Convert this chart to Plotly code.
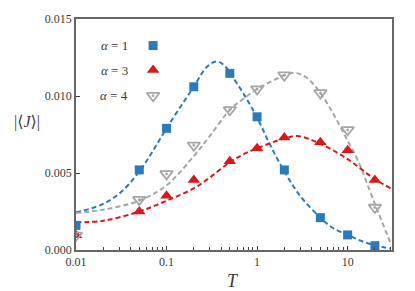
import plotly.graph_objects as go

# ---- data ----
T_points = [0.01, 0.05, 0.1, 0.2, 0.5, 1, 2, 5, 10, 20]
J_alpha1 = [0.0016, 0.0052, 0.0079, 0.0106, 0.01147, 0.00865, 0.0052, 0.0021, 0.00098, 0.00028]
J_alpha3 = [0.00096, 0.0025, 0.00353, 0.00455, 0.00577, 0.0066, 0.0073, 0.00699, 0.00647, 0.00455]
J_alpha4 = [0.00095, 0.00327, 0.00494, 0.0068, 0.0091, 0.01045, 0.01135, 0.0102, 0.0078, 0.00276]

T_fit1 = [0.01, 0.0184, 0.0306, 0.05, 0.07, 0.1, 0.15, 0.2, 0.28, 0.36, 0.45, 0.5, 0.7, 1, 1.4, 2, 3, 5, 7, 10, 14, 20, 30]
J_fit1 = [0.00245, 0.0029, 0.0037, 0.0051, 0.0064, 0.0079, 0.0095, 0.0106, 0.0119, 0.01225, 0.0119, 0.0115, 0.0102, 0.0086, 0.0068, 0.0051, 0.0035, 0.0021, 0.0014, 0.0010, 0.0006, 0.0003, 0.0001]

T_fit3 = [0.01, 0.02, 0.05, 0.1, 0.2, 0.3, 0.5, 0.7, 1, 2, 2.8, 5, 10, 20, 30]
J_fit3 = [0.0018, 0.0019, 0.0025, 0.0032, 0.0040, 0.0047, 0.0057, 0.0062, 0.0066, 0.00725, 0.0074, 0.0069, 0.0059, 0.0046, 0.0040]

T_fit4 = [0.01, 0.02, 0.05, 0.1, 0.2, 0.3, 0.5, 0.7, 1, 1.5, 2, 2.6, 3.5, 5, 7, 10, 13, 20, 30]
J_fit4 = [0.0024, 0.00262, 0.0032, 0.0042, 0.0061, 0.0074, 0.0091, 0.0098, 0.01045, 0.0110, 0.01135, 0.0115, 0.0112, 0.0102, 0.0088, 0.0071, 0.0058, 0.0030, 0.0004]

x_tickvals = [0.01, 0.1, 1, 10]
x_ticktext = ["0.01", "0.1", "1", "10"]
y_tickvals = [0.0, 0.005, 0.010, 0.015]
y_ticktext = ["0.000", "0.005", "0.010", "0.015"]
minor_vals = [m * 10 ** k for k in (-2, -1, 0, 1) for m in range(2, 10)]
legend_labels = ["<i>α</i> = 1", "<i>α</i> = 3", "<i>α</i> = 4"]

BLUE = "#2b7bba"
RED = "#d7191c"
GRAY = "#a6a6a6"
SERIF = "Liberation Serif, DejaVu Serif, serif"
TXT = "#3a3a3a"

fig = go.Figure()
dash = "5px,3px"
fig.add_trace(go.Scatter(x=T_fit1, y=J_fit1, mode="lines", line=dict(color=BLUE, width=2, dash=dash, shape="spline"), showlegend=False))
fig.add_trace(go.Scatter(x=T_fit4, y=J_fit4, mode="lines", line=dict(color=GRAY, width=2, dash=dash, shape="spline"), showlegend=False))
fig.add_trace(go.Scatter(x=T_fit3, y=J_fit3, mode="lines", line=dict(color=RED, width=2, dash=dash, shape="spline"), showlegend=False))

fig.add_trace(go.Scatter(x=T_points, y=J_alpha1, mode="markers",
                         marker=dict(symbol="square", size=9, color=BLUE, line=dict(width=0)), showlegend=False))
fig.add_trace(go.Scatter(x=T_points, y=J_alpha3, mode="markers",
                         marker=dict(symbol="triangle-up", size=11, color=RED, line=dict(width=0)), showlegend=False))
fig.add_trace(go.Scatter(x=T_points, y=J_alpha4, mode="markers",
                         marker=dict(symbol="triangle-down-open-dot", size=11, color=GRAY, line=dict(width=1.8, color=GRAY)), showlegend=False))

# legend keys drawn on an overlay axis (text left, symbol right)
leg_y = [0.885, 0.779, 0.668]
leg_symbols = ["square", "triangle-up", "triangle-down-open-dot"]
leg_colors = [BLUE, RED, GRAY]
leg_sizes = [9, 11, 11]
for yy, sym, col, sz in zip(leg_y, leg_symbols, leg_colors, leg_sizes):
    fig.add_trace(go.Scatter(x=[0.244], y=[yy], xaxis="x2", yaxis="y2", mode="markers",
                             marker=dict(symbol=sym, size=sz, color=col, line=dict(width=1.8 if "open" in sym else 0, color=col)),
                             showlegend=False, hoverinfo="skip"))
for yy, txt in zip(leg_y, legend_labels):
    fig.add_annotation(x=0.170, y=yy, xref="paper", yref="paper", text=txt, showarrow=False,
                       xanchor="right", yanchor="middle", font=dict(family=SERIF, size=13, color=TXT))

fig.add_annotation(x=-0.155, y=0.553, xref="paper", yref="paper", text="|⟨<i>J</i>⟩|", showarrow=False,
                   xanchor="center", yanchor="middle", font=dict(family=SERIF, size=16, color=TXT))
fig.add_annotation(x=0.497, y=-0.136, xref="paper", yref="paper", text="<i>T</i>", showarrow=False,
                   xanchor="center", yanchor="middle", font=dict(family=SERIF, size=18, color=TXT))

axis_common = dict(showline=True, mirror=True, linecolor="#666", linewidth=1.5, showgrid=False, zeroline=False,
                   ticks="inside", ticklen=4, tickcolor="#444", tickfont=dict(family=SERIF, size=12, color=TXT))
fig.update_layout(
    width=415, height=291, margin=dict(l=76, r=23, t=15, b=41),
    paper_bgcolor="white", plot_bgcolor="white",
    xaxis=dict(type="log", range=[-2, 1.49], tickmode="array", tickvals=x_tickvals, ticktext=x_ticktext,
               minor=dict(ticks="inside", ticklen=3, tickcolor="#444", tickmode="array", tickvals=minor_vals, showgrid=False),
               **axis_common),
    yaxis=dict(range=[0, 0.015], tickmode="array", tickvals=y_tickvals, ticktext=y_ticktext, **axis_common),
    xaxis2=dict(overlaying="x", range=[0, 1], visible=False, fixedrange=True),
    yaxis2=dict(overlaying="y", range=[0, 1], visible=False, fixedrange=True),
    showlegend=False,
)
fig.write_html("out.html", config={"displayModeBar": False},
               post_script="document.body.style.margin='0';document.body.style.overflow='hidden';")
